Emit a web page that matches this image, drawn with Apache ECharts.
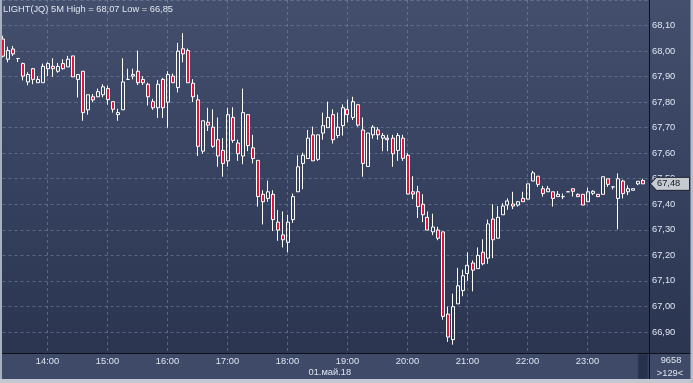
<!DOCTYPE html>
<html><head><meta charset="utf-8">
<script src="https://cdn.jsdelivr.net/npm/echarts@6/dist/echarts.min.js"></script>
<style>html,body{margin:0;padding:0;background:#3e4a67;}#c{width:693px;height:383px;}</style>
</head><body><div id="c"></div>
<script>
const categories = [
 '13:15','13:20','13:25','13:30','13:35','13:40','13:45','13:50','13:55',
 '14:00','14:05','14:10','14:15','14:20','14:25','14:30','14:35','14:40','14:45','14:50','14:55',
 '15:00','15:05','15:10','15:15','15:20','15:25','15:30','15:35','15:40','15:45','15:50','15:55',
 '16:00','16:05','16:10','16:15','16:20','16:25','16:30','16:35','16:40','16:45','16:50','16:55',
 '17:00','17:05','17:10','17:15','17:20','17:25','17:30','17:35','17:40','17:45','17:50','17:55',
 '18:00','18:05','18:10','18:15','18:20','18:25','18:30','18:35','18:40','18:45','18:50','18:55',
 '19:00','19:05','19:10','19:15','19:20','19:25','19:30','19:35','19:40','19:45','19:50','19:55',
 '20:00','20:05','20:10','20:15','20:20','20:25','20:30','20:35','20:40','20:45','20:50','20:55',
 '21:00','21:05','21:10','21:15','21:20','21:25','21:30','21:35','21:40','21:45','21:50','21:55',
 '22:00','22:05','22:10','22:15','22:20','22:25','22:30','22:35','22:40','22:45','22:50','22:55',
 '23:00','23:05','23:10','23:15','23:20','23:25','23:30','23:35','23:40','23:45','23:50','23:55',
 '00:00'];
const hourLabels = ['14:00','15:00','16:00','17:00','18:00','19:00','20:00','21:00','22:00','23:00'];

const opens = [
 68.047,67.968,68.008,67.971,67.951,67.879,67.931,67.876,67.876,
 67.931,67.940,67.921,67.951,67.938,67.981,67.889,67.921,67.770,67.821,67.821,67.829,
 67.853,67.802,67.751,67.770,67.889,67.902,67.921,67.889,67.870,67.802,67.778,67.889,
 67.800,67.902,67.857,68.009,68.002,67.874,67.809,67.608,67.721,67.702,67.653,67.611,
 67.570,67.740,67.640,67.589,67.751,67.621,67.572,67.439,67.423,67.439,67.330,67.280,
 67.251,67.340,67.449,67.560,67.579,67.672,67.576,67.679,67.700,67.751,67.669,67.708,
 67.772,67.740,67.790,67.691,67.548,67.672,67.691,67.659,67.659,67.659,67.611,67.659,
 67.592,67.449,67.449,67.400,67.349,67.292,67.299,67.292,66.970,66.870,67.010,67.062,
 67.129,67.170,67.148,67.212,67.189,67.342,67.267,67.359,67.397,67.401,67.397,67.423,
 67.420,67.491,67.510,67.461,67.449,67.449,67.430,67.430,67.449,67.461,67.439,67.439,
 67.410,67.443,67.439,67.439,67.500,67.468,67.423,67.491,67.449,67.455,67.480,67.493];
const closes = [
 67.980,68.002,67.989,67.971,67.902,67.908,67.889,67.889,67.940,
 67.951,67.931,67.940,67.931,67.968,67.899,67.908,67.759,67.829,67.809,67.841,67.860,
 67.810,67.772,67.759,67.879,67.889,67.908,67.876,67.876,67.821,67.778,67.870,67.778,
 67.908,67.876,68.000,67.989,67.876,67.821,67.627,67.727,67.710,67.627,67.589,67.560,
 67.751,67.650,67.598,67.759,67.630,67.579,67.430,67.410,67.449,67.340,67.299,67.261,
 67.330,67.430,67.547,67.592,67.659,67.570,67.672,67.708,67.740,67.653,67.702,67.778,
 67.751,67.802,67.710,67.560,67.679,67.702,67.672,67.669,67.653,67.598,67.669,67.580,
 67.440,67.440,67.391,67.359,67.299,67.311,67.267,66.961,66.880,66.999,67.081,67.120,
 67.161,67.142,67.200,67.167,67.323,67.261,67.349,67.393,67.413,67.393,67.410,67.410,
 67.480,67.523,67.478,67.442,67.461,67.423,67.439,67.430,67.449,67.451,67.430,67.397,
 67.449,67.451,67.430,67.508,67.478,67.468,67.500,67.442,67.461,67.461,67.490,67.480];
const lows = [
 67.975,67.956,67.981,67.957,67.885,67.866,67.870,67.876,67.876,
 67.902,67.899,67.915,67.928,67.938,67.899,67.818,67.727,67.751,67.800,67.821,67.819,
 67.790,67.759,67.727,67.770,67.889,67.889,67.867,67.867,67.787,67.770,67.738,67.738,
 67.700,67.876,67.838,67.956,67.876,67.800,67.589,67.598,67.687,67.621,67.547,67.508,
 67.547,67.640,67.570,67.557,67.608,67.560,67.391,67.321,67.410,67.295,67.257,67.231,
 67.212,67.327,67.449,67.459,67.579,67.570,67.570,67.653,67.700,67.638,67.659,67.669,
 67.721,67.730,67.704,67.508,67.548,67.657,67.653,67.608,67.608,67.547,67.570,67.570,
 67.440,67.420,67.346,67.330,67.299,67.279,67.259,66.948,66.861,66.850,67.010,67.040,
 67.100,67.059,67.148,67.161,67.167,67.189,67.267,67.359,67.378,67.381,67.391,67.410,
 67.420,67.491,67.468,67.430,67.449,67.391,67.430,67.420,67.449,67.430,67.430,67.397,
 67.410,67.436,67.430,67.439,67.468,67.458,67.302,67.423,67.436,67.455,67.475,67.480];
const highs = [
 68.060,68.017,68.020,67.971,67.955,67.917,67.934,67.902,67.951,
 67.956,67.972,67.953,67.968,67.981,67.981,67.908,67.921,67.829,67.832,67.853,67.870,
 67.864,67.802,67.774,67.972,67.931,67.931,68.002,67.902,67.876,67.813,67.887,67.895,
 67.921,67.912,68.032,68.070,68.010,67.890,67.829,67.727,67.778,67.772,67.740,67.659,
 67.778,67.780,67.653,67.853,67.751,67.672,67.572,67.455,67.493,67.455,67.378,67.372,
 67.359,67.442,67.592,67.602,67.691,67.704,67.672,67.759,67.802,67.772,67.759,67.791,
 67.810,67.821,67.790,67.740,67.679,67.710,67.702,67.679,67.672,67.672,67.679,67.672,
 67.600,67.510,67.472,67.440,67.372,67.363,67.312,67.292,66.999,67.050,67.151,67.144,
 67.212,67.180,67.231,67.263,67.340,67.400,67.393,67.404,67.423,67.449,67.413,67.449,
 67.480,67.531,67.510,67.472,67.472,67.449,67.452,67.442,67.449,67.461,67.442,67.439,
 67.465,67.455,67.439,67.508,67.500,67.468,67.521,67.496,67.474,67.461,67.490,67.500];

const titleText = 'LIGHT(JQ) 5M High = 68,07 Low = 66,85';
const dateText = '01.май.18';
const volText = '9658';
const countText = '>129<';

const FONT = 'Liberation Sans';
const TXT = '#dfe5f0';
const candleData = opens.map((o, i) => [o, closes[i], lows[i], highs[i]]);
const fmt = v => v.toFixed(2).replace('.', ',');
const isHour = (i, v) => hourLabels.indexOf(v) >= 0;

const chart = echarts.init(document.getElementById('c'), null, {renderer: 'canvas'});

const baseGraphics = [
  {id:'bg', type:'rect', z:-20, shape:{x:0,y:0,width:693,height:353},
   style:{fill:{type:'linear',x:0,y:0,x2:0,y2:1,colorStops:[{offset:0,color:'#434f6c'},{offset:0.5,color:'#364260'},{offset:1,color:'#2b3550'}]}}},
  {id:'bottomPanel', type:'rect', z:-20, shape:{x:0,y:353,width:693,height:30}, style:{fill:'#3e4a67'}},
  {id:'scroll', type:'rect', z:20, shape:{x:638,y:354,width:10,height:25}, style:{fill:'#28314b', stroke:'#35405c', lineWidth:1}},
  {id:'sepH', type:'line', z:20, shape:{x1:0,y1:353.5,x2:693,y2:353.5}, style:{stroke:'#0d111b', lineWidth:1}},
  {id:'sepV', type:'line', z:20, shape:{x1:649.5,y1:0,x2:649.5,y2:379}, style:{stroke:'#0d111b', lineWidth:1}},
  {id:'frameL', type:'rect', z:20, shape:{x:0,y:0,width:2,height:383}, style:{fill:'#a9b1bf'}},
  {id:'frameB', type:'rect', z:20, shape:{x:0,y:379,width:693,height:4}, style:{fill:'#c2c7d0'}},
  {id:'frameR', type:'rect', z:20, shape:{x:690.5,y:0,width:2.5,height:383}, style:{fill:'#b9bfca'}},
  {id:'date', type:'text', z:20, style:{text:dateText, x:308.5, y:372.7, fill:TXT, font:'9.3px ' + FONT, textVerticalAlign:'middle', textAlign:'left'}},
  {id:'vol', type:'text', z:20, style:{text:volText, x:671, y:360.5, fill:TXT, font:'9.3px ' + FONT, textVerticalAlign:'middle', textAlign:'center'}},
  {id:'cnt', type:'text', z:20, style:{text:countText, x:670, y:373.3, fill:TXT, font:'9.3px ' + FONT, textVerticalAlign:'middle', textAlign:'center'}}
];

chart.setOption({
  animation: false,
  backgroundColor: '#3e4a67',
  title: {text: titleText, left: 3, top: 3, padding: 0,
    textStyle: {fontSize: 9.3, fontWeight: 'normal', color: TXT, fontFamily: FONT, lineHeight: 12}},
  grid: {left: 2.5, width: 645, top: -7.8, height: 360.8},
  xAxis: {
    type: 'category', data: categories, boundaryGap: false,
    axisLine: {show: false}, axisTick: {show: false},
    axisLabel: {interval: isHour, color: TXT, fontSize: 9.3, fontFamily: FONT, margin: 8.7, verticalAlign: 'middle'},
    splitLine: {show: true, interval: isHour, lineStyle: {color: 'rgba(130,146,178,0.5)', type: [3, 3], width: 1}}
  },
  yAxis: {
    type: 'value', position: 'right', min: 66.8176, max: 68.2, splitNumber: 14,
    minInterval: 0.1, maxInterval: 0.1, scale: true,
    axisLine: {show: false}, axisTick: {show: false},
    axisLabel: {formatter: fmt, color: TXT, fontSize: 9.3, fontFamily: FONT, margin: 4.5, showMinLabel: false, showMaxLabel: false},
    splitLine: {show: true, lineStyle: {color: 'rgba(130,146,178,0.5)', type: [3, 3], width: 1}}
  },
  series: [{
    type: 'candlestick', data: candleData, barWidth: 3.5,
    itemStyle: {color: 'rgba(0,0,0,0)', color0: '#e0143c', borderColor: '#ffffff', borderColor0: '#ffffff', borderColorDoji: '#ffffff', borderWidth: 1}
  }],
  graphic: baseGraphics
});

const lastClose = closes[closes.length - 1];
const py = chart.convertToPixel({yAxisIndex: 0}, lastClose);
chart.setOption({graphic: [
  {id:'priceBox', type:'polygon', z:30,
   shape:{points:[[650.5,py],[656.5,py-6.5],[689.5,py-6.5],[689.5,py+6.5],[656.5,py+6.5]]},
   style:{fill:'#c6cad1', stroke:'#1c2230', lineWidth:1}},
  {id:'priceText', type:'text', z:31, style:{text: fmt(lastClose), x:657, y:py, fill:'#141820', font:'9.3px ' + FONT, textVerticalAlign:'middle', textAlign:'left'}}
]});
</script></body></html>
